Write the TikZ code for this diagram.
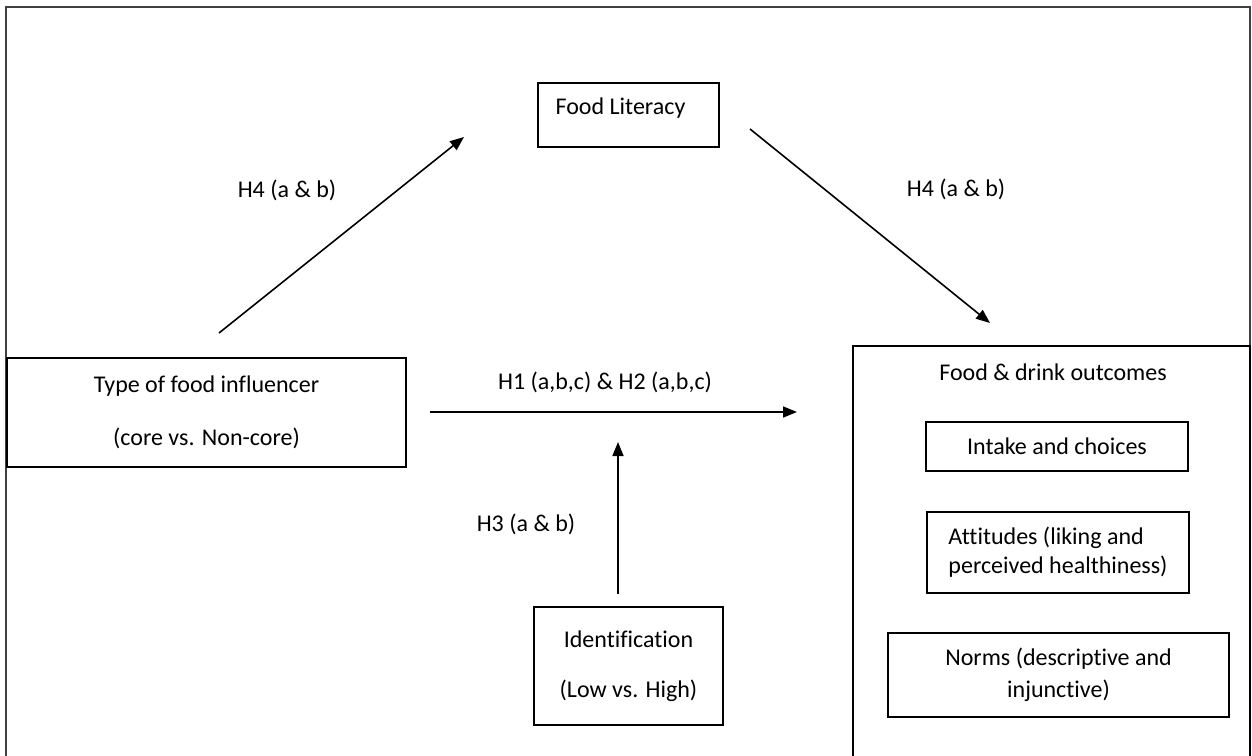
\documentclass[tikz,border=0pt]{standalone}
\usepackage{fontspec}
\setmainfont{Carlito}[Ligatures=NoCommon]
\usetikzlibrary{arrows.meta}

\begin{document}
\begin{tikzpicture}[x=0.5pt, y=-0.5pt, >={Triangle[length=7pt, width=5.5pt]},
	every node/.style={font=\fontsize{12}{14.5}\selectfont, inner sep=0pt},
	box/.style={draw, line width=0.6pt},
	link/.style={->, line width=0.8pt}]
	% page and outer frame (open at the bottom)
	\clip (0,0) rectangle (1252,755);
	\fill[white] (0,0) rectangle (1252,755);
	\draw[black!75, line width=0.6pt] (6,770) -- (6,7) -- (1250,7) -- (1250,770);
	
	% mediator
	\node[box, minimum width=90.5pt, minimum height=32pt] (lit) at (628.5,115) {};
	\node (littxt) at (620.5,108) {Food Literacy};
	
	% predictor and moderator
	\node[box, align=center, minimum width=199.5pt, minimum height=54.5pt] (type) at (206.5,412.5)
		{Type of food influencer\\[12pt](core vs. Non-core)};
	\node[box, align=center, minimum width=94.5pt, minimum height=59pt] (ident) at (628.5,666)
		{Identification\\[10.5pt](Low vs. High)};
	
	% outcomes
	\node[box, minimum width=198.5pt, minimum height=210pt] (out) at (1051.5,556) {};
	\node (outtxt) at (1053,372) {Food \& drink outcomes};
	\node[box, minimum width=131pt, minimum height=24.5pt] (intake) at (1057,446.5) {Intake and choices};
	\node[box, align=left, minimum width=131pt, minimum height=40.5pt] (att) at (1058,552.5)
		{Attitudes (liking and\\perceived healthiness)};
	\node[box, align=center, minimum width=170.5pt, minimum height=42pt] (norms) at (1058.5,675)
		{Norms (descriptive and\\[1.5pt]injunctive)};
	
	% arrow ends
	\coordinate (a1) at (219,333);
	\coordinate (a2) at (464,137);
	\coordinate (b1) at (750,129);
	\coordinate (b2) at (990,323);
	\coordinate (c1) at (430,412);
	\coordinate (c2) at (797,412);
	\coordinate (d1) at (618,594);
	\coordinate (d2) at (618,442);
	
	% paths
	\draw[link] (a1) -- (a2);
	\draw[link] (b1) -- (b2);
	\draw[link] (c1) -- (c2);
	\draw[link] (d1) -- (d2);
	
	% hypothesis labels
	\node (h4l) at (287,190) {H4 (a \& b)};
	\node (h4r) at (956,189) {H4 (a \& b)};
	\node (h12) at (605,382) {H1 (a,b,c) \& H2 (a,b,c)};
	\node (h3) at (526,524) {H3 (a \& b)};
\end{tikzpicture}
\end{document}
